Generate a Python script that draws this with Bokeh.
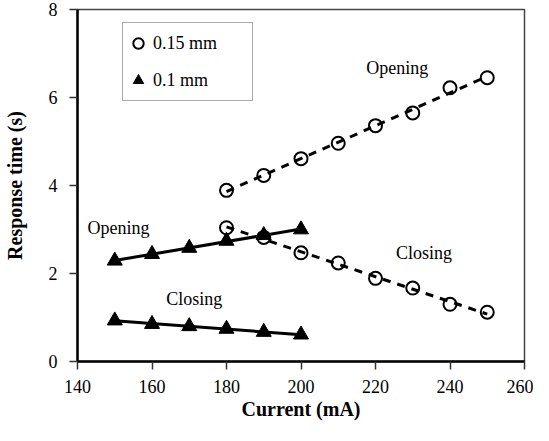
import numpy as np
from bokeh.plotting import figure
from bokeh.models import Legend, LegendItem, Label, Range1d, FixedTicker
from bokeh.embed import file_html
from bokeh.resources import INLINE

# ---- data ----
current_015 = [180, 190, 200, 210, 220, 230, 240, 250]
open_015 = [3.89, 4.23, 4.61, 4.96, 5.36, 5.65, 6.22, 6.45]
close_015 = [3.04, 2.82, 2.47, 2.24, 1.89, 1.67, 1.30, 1.12]

current_01 = [150, 160, 170, 180, 190, 200]
open_01 = [2.29, 2.44, 2.58, 2.74, 2.87, 3.00]
close_01 = [0.93, 0.85, 0.80, 0.74, 0.67, 0.61]

x_ticks = [140, 160, 180, 200, 220, 240, 260]
y_ticks = [0, 2, 4, 6, 8]

FONT = "Liberation Serif"

W, H = 533, 425
B_LEFT, B_TOP, B_RIGHT, B_BOTTOM = 75, 9, 9, 64
FRAME_H = H - B_TOP - B_BOTTOM

p = figure(width=W, height=H, output_backend="svg", toolbar_location=None,
           x_range=Range1d(140, 260), y_range=Range1d(0, 8),
           min_border_left=B_LEFT, min_border_top=B_TOP,
           min_border_right=B_RIGHT, min_border_bottom=B_BOTTOM)
p.background_fill_color = "white"
p.border_fill_color = "white"
p.outline_line_color = "#444444"
p.outline_line_width = 1.5
p.xgrid.visible = False
p.ygrid.visible = False


def trend(xs, ys):
    k, b = np.polyfit(xs, ys, 1)
    xe = np.array([min(xs), max(xs)])
    return xe, k * xe + b


# trend lines
for ys in (open_015, close_015):
    xe, ye = trend(current_015, ys)
    p.line(xe, ye, line_color="black", line_width=3, line_dash="8 7")
for ys in (open_01, close_01):
    xe, ye = trend(current_01, ys)
    p.line(xe, ye, line_color="black", line_width=3)

# markers
c1 = p.scatter(current_015, open_015, marker="circle", size=13, fill_color=None,
               line_color="black", line_width=2)
p.scatter(current_015, close_015, marker="circle", size=13, fill_color=None,
          line_color="black", line_width=2)
t1 = p.scatter(current_01, open_01, marker="triangle", size=15, fill_color="black",
               line_color="black")
p.scatter(current_01, close_01, marker="triangle", size=15, fill_color="black",
          line_color="black")

# axes
for ax in (p.xaxis[0], p.yaxis[0]):
    ax.axis_line_width = 2.5
    ax.axis_line_color = "black"
    ax.major_tick_out = 8
    ax.major_tick_in = 0
    ax.major_tick_line_color = "#333333"
    ax.major_tick_line_width = 1.5
    ax.minor_tick_line_color = None
    ax.major_label_text_font = FONT
    ax.major_label_text_font_size = "18px"
    ax.major_label_text_color = "black"
    ax.axis_label_text_font = FONT
    ax.axis_label_text_font_size = "20px"
    ax.axis_label_text_font_style = "bold"
    ax.axis_label_text_color = "black"
    ax.major_label_standoff = 12

p.xaxis[0].ticker = FixedTicker(ticks=x_ticks)
p.yaxis[0].ticker = FixedTicker(ticks=y_ticks)
p.xaxis[0].axis_label = "Current (mA)"
p.yaxis[0].axis_label = "Response time (s)"
p.xaxis[0].major_label_standoff = 10
p.xaxis[0].axis_label_standoff = 2
p.yaxis[0].axis_label_standoff = 20

# annotations
for (x, y, t) in [(217.5, 6.66, "Opening"), (225.5, 2.46, "Closing"),
                  (142.7, 3.04, "Opening"), (163.8, 1.41, "Closing")]:
    p.add_layout(Label(x=x, y=y, text=t, text_font=FONT, text_font_size="18px",
                       text_baseline="middle", text_align="left", text_color="black"))

LEG_H = 77
legend = Legend(items=[LegendItem(label="0.15 mm", renderers=[c1]),
                       LegendItem(label="0.1 mm", renderers=[t1])],
                location=(45, FRAME_H - 15 - LEG_H), orientation="vertical",
                padding=2, spacing=1, glyph_width=26, glyph_height=36,
                label_height=36, label_width=97, label_standoff=2,
                label_text_font=FONT, label_text_font_size="18px",
                label_text_color="black",
                border_line_color="#555555", border_line_width=1,
                background_fill_color="white", background_fill_alpha=1.0)
p.add_layout(legend)

open("out.html", "w").write(file_html(p, INLINE))
